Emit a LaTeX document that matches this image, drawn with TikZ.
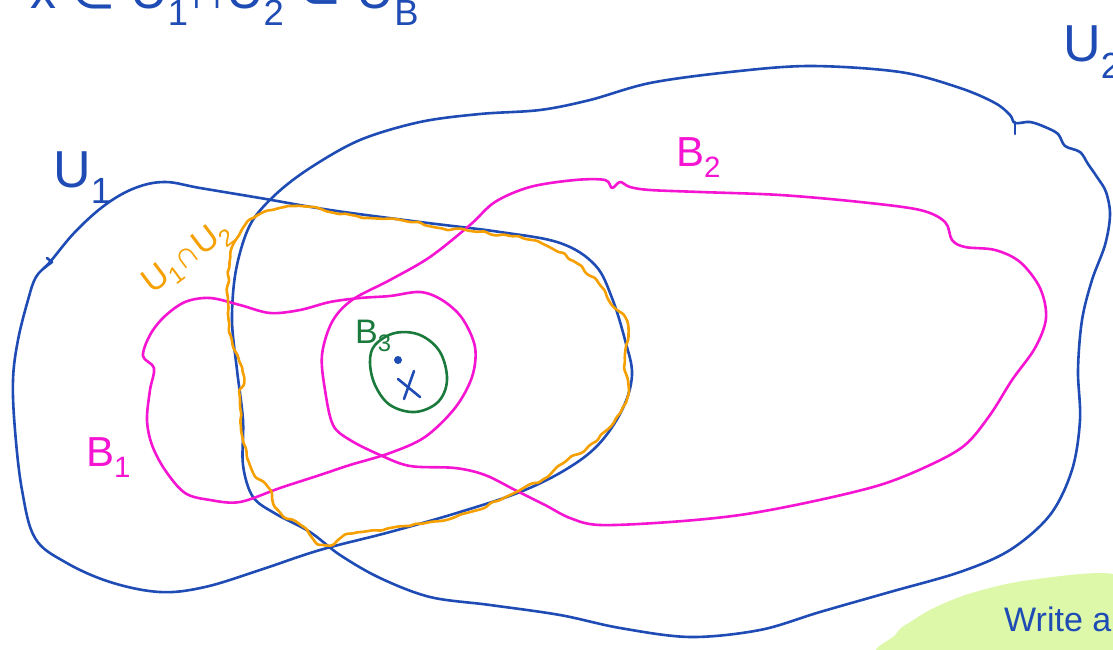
\documentclass[tikz,border=0pt]{standalone}
\usepackage{fontspec}
\setmainfont{Liberation Sans}
\newfontfamily\symfont{DejaVu Sans}
\usetikzlibrary{decorations.pathmorphing}
\definecolor{penblue}{HTML}{1E4BB4}
\definecolor{penpink}{HTML}{F514D2}
\definecolor{penorange}{HTML}{F5A000}
\definecolor{pengreen}{HTML}{1A7A3C}
\definecolor{hilite}{HTML}{DDF8A8}
\begin{document}
\begin{tikzpicture}[x=1pt,y=-1pt,
  ink/.style={line width=2.6pt, line cap=round, line join=round},
  blueink/.style={ink, draw=penblue},
  pinkink/.style={ink, draw=penpink},
  greenink/.style={ink, draw=pengreen},
  orangeink/.style={ink, draw=penorange, decorate,
     decoration={random steps, segment length=6pt, amplitude=1.8pt}, rounded corners=2.5pt},
  biglabel/.style={inner sep=0pt, font=\fontsize{52}{52}\selectfont},
  midlabel/.style={inner sep=0pt, font=\fontsize{42}{42}\selectfont},
  smalllabel/.style={inner sep=0pt, font=\fontsize{34}{34}\selectfont}]
\useasboundingbox (0,0) rectangle (1113,650);
\clip (0,0) rectangle (1113,650);
\pgfmathsetseed{7}

% highlight blob bottom right
\fill[hilite] plot[smooth cycle, tension=0.6] coordinates {(893,660)(896,634)(915,619)(938,606)(975,592)(1030,580)(1113,574)(1140,600)(1140,670)};
\node[inner sep=0pt, text=penblue, anchor=base west, font=\fontsize{34}{34}\selectfont] (write) at (1004,631) {Write a};

% top text (mostly cut off at the top edge)
\node[anchor=base west, inner sep=0pt, text=penblue, font=\fontsize{52}{52}\selectfont] (toptext) at (30,9) {x {\symfont∈} U\textsubscript{1}∩U\textsubscript{2} {\symfont⊂} U\textsubscript{B}};

% U1
\draw[blueink] plot[smooth cycle, tension=0.6] coordinates {(50,262)(75,232)(105,205)(135,188)(165,182)(200,188)(260,198)(330,210)(420,222)(500,232)(560,243)(595,265)(612,298)(625,340)(632,375)(622,410)(598,445)(565,470)(520,492)(460,512)(390,532)(320,550)(260,570)(205,587)(160,592)(110,582)(65,562)(35,538)(22,490)(15,430)(13,380)(18,340)(28,300)(36,277)};
\draw[blueink] (44,268) -- (52,262) -- (47,258);

% U2
\draw[blueink] plot[smooth cycle, tension=0.55] coordinates {(1015,123)(1030,122)(1045,127)(1058,134)(1065,146)(1080,152)(1088,164)(1097,177)(1106,192)(1110,215)(1105,245)(1092,280)(1082,320)(1078,370)(1080,420)(1072,470)(1050,515)(1010,550)(960,572)(890,592)(820,612)(760,630)(690,637)(620,628)(560,615)(490,605)(430,597)(380,578)(340,555)(310,532)(276,514)(253,497)(243,465)(243,420)(237,370)(232,320)(236,270)(250,225)(275,195)(310,168)(360,140)(420,122)(480,114)(540,110)(590,100)(650,83)(730,72)(810,66)(900,72)(960,88)(995,103)(1010,115)};
\draw[blueink] (1015,122) -- (1015,134);

% B2
\draw[pinkink] plot[smooth cycle, tension=0.55] coordinates {(470,225)(495,202)(530,187)(575,180)(605,180)(612,188)(620,182)(630,187)(650,190)(700,192)(780,195)(860,202)(920,210)(945,222)(952,240)(965,247)(995,250)(1020,262)(1040,288)(1046,318)(1035,348)(1012,380)(990,415)(965,445)(930,465)(880,485)(810,502)(740,515)(670,522)(600,525)(570,518)(545,505)(515,490)(485,475)(455,468)(410,466)(380,455)(350,440)(333,425)(325,390)(322,355)(332,322)(352,300)(390,280)(430,257)};

% B1
\draw[pinkink] plot[smooth cycle, tension=0.55] coordinates {(143,356)(150,335)(164,317)(185,302)(210,298)(240,305)(270,313)(300,310)(330,302)(360,298)(390,296)(420,292)(442,300)(462,318)(475,347)(472,377)(455,408)(425,437)(390,453)(350,465)(320,475)(280,488)(240,502)(210,500)(185,493)(165,470)(152,445)(147,420)(150,390)(154,368)};

% U1 cap U2 (orange, wavy)
\draw[orangeink] plot[smooth cycle, tension=0.55] coordinates {(258,215)(280,208)(300,206)(330,212)(370,218)(410,222)(440,228)(470,231)(510,236)(545,245)(575,262)(600,285)(612,305)(628,325)(625,360)(628,395)(612,425)(590,445)(565,462)(545,478)(510,495)(470,512)(430,522)(390,528)(355,533)(325,545)(305,528)(280,512)(270,490)(252,470)(243,440)(240,400)(243,375)(232,340)(228,300)(230,260)(243,228)};

% B3
\draw[greenink] plot[smooth cycle, tension=0.6] coordinates {(375,345)(395,333)(420,335)(440,352)(447,380)(438,402)(415,412)(390,405)(375,385)(370,362)};

% point x
\fill[penblue] (398,360) circle (4pt) coordinate (xdot);
\draw[blueink] (398,379) -- (420,397);
\draw[blueink] (414,371) -- (404,399);

% labels
\node[biglabel, text=penblue, anchor=base west] (lU1) at (53,187) {U\textsubscript{1}};
\node[biglabel, text=penblue, anchor=base west] (lU2) at (1063,62) {U\textsubscript{2}};
\node[midlabel, text=penpink, anchor=base west] (lB2) at (676,166) {B\textsubscript{2}};
\node[midlabel, text=penpink, anchor=base west] (lB1) at (86,466) {B\textsubscript{1}};
\node[smalllabel, text=pengreen, anchor=base west] (lB3) at (355,343) {B\textsubscript{3}};
\node[smalllabel, text=penorange, rotate=37] (lcap) at (188,258) {U\textsubscript{1}∩U\textsubscript{2}};
\end{tikzpicture}
\end{document}
